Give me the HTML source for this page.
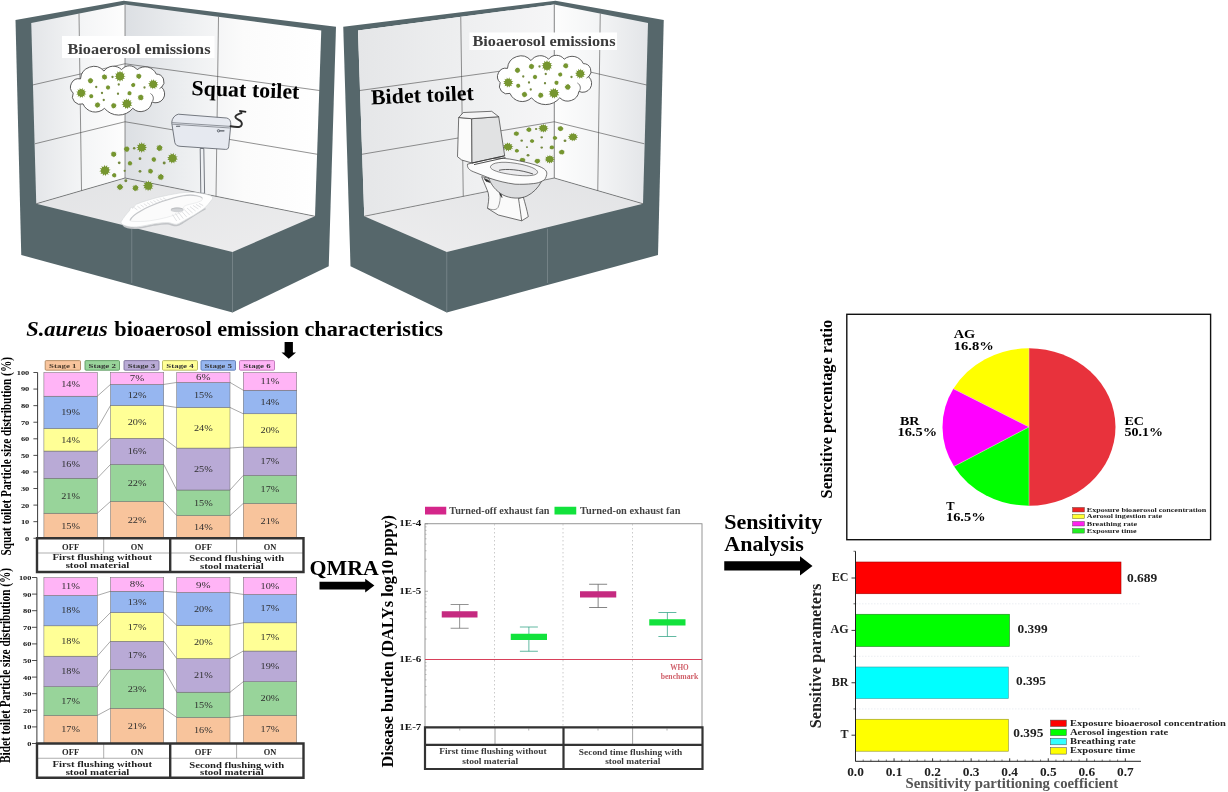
<!DOCTYPE html>
<html><head><meta charset="utf-8"><title>Graphical abstract</title>
<style>
html,body{margin:0;padding:0;background:#fff;}
body{width:1228px;height:792px;overflow:hidden;font-family:"Liberation Serif",serif;}
svg{display:block;font-family:"Liberation Serif",serif;filter:blur(0.45px);}
</style></head><body>
<svg width="1228" height="792" viewBox="0 0 1228 792">
<defs>
<linearGradient id="gLeft" x1="0" y1="0" x2="1" y2="0"><stop offset="0" stop-color="#e3e5e8"/><stop offset="0.55" stop-color="#f4f5f6"/><stop offset="1" stop-color="#fdfdfd"/></linearGradient>
<linearGradient id="gBack" x1="0" y1="0" x2="1" y2="0"><stop offset="0" stop-color="#dcdfe3"/><stop offset="0.3" stop-color="#eceef0"/><stop offset="0.6" stop-color="#fbfbfb"/><stop offset="1" stop-color="#ffffff"/></linearGradient>
<linearGradient id="gFloor" x1="0" y1="0" x2="1" y2="1"><stop offset="0" stop-color="#e2e3e5"/><stop offset="1" stop-color="#ededee"/></linearGradient>
<g id="germ">
<polygon fill="#6b8a28" points="1.080,0.000 0.599,0.160 0.935,0.540 0.438,0.438 0.540,0.935 0.160,0.599 0.000,1.080 -0.160,0.599 -0.540,0.935 -0.438,0.438 -0.935,0.540 -0.599,0.160 -1.080,0.000 -0.599,-0.160 -0.935,-0.540 -0.438,-0.438 -0.540,-0.935 -0.160,-0.599 -0.000,-1.080 0.160,-0.599 0.540,-0.935 0.438,-0.438 0.935,-0.540 0.599,-0.160"/>
<circle r="0.74" fill="#76962f"/>
</g>
<g id="roomshell">
<polygon points="15.5,20 123.75,0.75 336,26.75 328.75,266.25 232.5,312.5 21.25,255" fill="#56676b"/>
<polygon points="31.25,23 125,4.5 125,178 36.25,203.75" fill="url(#gLeft)"/>
<polygon points="125,4.5 321.25,30.5 315,216.25 125,178" fill="url(#gBack)"/>
<polygon points="36.25,203.75 125,178 315,216.25 232.5,252" fill="url(#gFloor)"/>
</g>
<g id="roomlines">
<g stroke="#4a4a4a" stroke-width="0.6" fill="none">
<path d="M125,4.5V178"/>
<path d="M79,13.6L81.5,190.6"/>
<path d="M32.5,85L125,63.75L319.5,90.5"/>
<path d="M35,143.75L125,121.75L317.5,154.3"/>
<path d="M218.5,16.9L216,196.3"/>
<path d="M36.25,203.75L125,178L315,216.25"/>
</g>
<path d="M131.75,228.75V283M232.5,252V312.5" stroke="#8a9598" stroke-width="0.6"/>
</g>
<linearGradient id="gBack2" x1="0" y1="0" x2="1" y2="0"><stop offset="0" stop-color="#f6f6f7"/><stop offset="0.45" stop-color="#eeeff0"/><stop offset="1" stop-color="#e5e6e8"/></linearGradient>
<g id="cloud">
<path d="M80.5,78.9A13.37,13.37 0 0 1 104,71.1A11.39,11.39 0 0 1 121.6,69.7A9.75,9.75 0 0 1 137.2,69.7A12.25,12.25 0 0 1 156.3,74.1A7.70,7.70 0 0 1 161.7,87.3A8.88,8.88 0 0 1 151.9,101.9A11.28,11.28 0 0 1 132.8,108.3A18.14,18.14 0 0 1 104.5,108.3A13.26,13.26 0 0 1 83,103.9A7.88,7.88 0 0 1 73.2,93.1A8.29,8.29 0 0 1 80.5,78.9Z" fill="#fff" stroke="#4a4a4a" stroke-width="0.9" stroke-linejoin="round"/>
<path d="M150.5,93.5C153,95 154.2,98 152.6,101.2" fill="none" stroke="#4a4a4a" stroke-width="0.8"/>
<path d="M159.5,88.6L162,86.8" fill="none" stroke="#4a4a4a" stroke-width="0.8"/>

<use href="#germ" transform="translate(120,76.25) scale(5.26) rotate(0)"/>
<use href="#germ" transform="translate(153.25,84.25) scale(4.91) rotate(37)"/>
<use href="#germ" transform="translate(81.25,93) scale(4.91) rotate(14)"/>
<use href="#germ" transform="translate(127,103.75) scale(5.26) rotate(51)"/>
<use href="#germ" transform="translate(90.5,80.75) scale(2.92) rotate(28)"/>
<use href="#germ" transform="translate(104.5,77) scale(2.92) rotate(5)"/>
<use href="#germ" transform="translate(138.75,76.25) scale(2.92) rotate(42)"/>
<use href="#germ" transform="translate(108,87.5) scale(2.34) rotate(19)"/>
<use href="#germ" transform="translate(133.25,85) scale(2.34) rotate(56)"/>
<use href="#germ" transform="translate(129.5,93.25) scale(2.34) rotate(33)"/>
<use href="#germ" transform="translate(91.25,96.25) scale(2.34) rotate(10)"/>
<use href="#germ" transform="translate(140.75,97.5) scale(3.16) rotate(47)"/>
<use href="#germ" transform="translate(97.5,105) scale(2.92) rotate(24)"/>
<use href="#germ" transform="translate(113.75,105.75) scale(2.92) rotate(1)"/>
<circle cx="112.5" cy="77" r="1.15" fill="#74893f"/>
<circle cx="96.25" cy="87" r="1.15" fill="#74893f"/>
<circle cx="118.75" cy="84.5" r="1.15" fill="#74893f"/>
<circle cx="144.5" cy="87.5" r="1.15" fill="#74893f"/>
<circle cx="102" cy="93" r="1.15" fill="#74893f"/>
<circle cx="118" cy="93.75" r="1.15" fill="#74893f"/>
<circle cx="103.75" cy="100" r="1.15" fill="#74893f"/>
</g>
<g id="germs">
<use href="#germ" transform="translate(141.7,147.5) scale(5.15) rotate(0)"/>
<use href="#germ" transform="translate(172.5,158.3) scale(5.15) rotate(41)"/>
<use href="#germ" transform="translate(105,170.5) scale(5.38) rotate(22)"/>
<use href="#germ" transform="translate(148.3,185.8) scale(5.15) rotate(3)"/>
<use href="#germ" transform="translate(126.7,149.2) scale(3.04) rotate(44)"/>
<use href="#germ" transform="translate(159.5,148) scale(3.28) rotate(25)"/>
<use href="#germ" transform="translate(113.7,154.2) scale(3.04) rotate(6)"/>
<use href="#germ" transform="translate(153.8,159.5) scale(2.57) rotate(47)"/>
<use href="#germ" transform="translate(130,163.3) scale(2.46) rotate(28)"/>
<use href="#germ" transform="translate(150.5,171.2) scale(2.69) rotate(9)"/>
<use href="#germ" transform="translate(160.8,177) scale(3.28) rotate(50)"/>
<use href="#germ" transform="translate(114.2,175.3) scale(2.46) rotate(31)"/>
<use href="#germ" transform="translate(120,187) scale(3.28) rotate(12)"/>
<use href="#germ" transform="translate(135.5,188) scale(3.28) rotate(53)"/>
<circle cx="134.2" cy="148.3" r="1.26" fill="#74893f"/>
<circle cx="140" cy="158.7" r="1.38" fill="#74893f"/>
<circle cx="119.2" cy="162.8" r="1.38" fill="#74893f"/>
<circle cx="164.2" cy="163" r="1.49" fill="#74893f"/>
<circle cx="140" cy="171.3" r="1.38" fill="#74893f"/>
<circle cx="124.7" cy="170.8" r="1.15" fill="#74893f"/>
<circle cx="125.8" cy="180.8" r="1.49" fill="#74893f"/>
</g>
</defs>
<rect width="1228" height="792" fill="#fff"/>
<use href="#roomshell"/><use href="#roomlines"/>
<g transform="translate(679.25,0) scale(-1,1)"><use href="#roomshell"/><polygon points="125,4.5 321.25,30.5 315,216.25 125,178" fill="url(#gBack2)"/><use href="#roomlines"/></g>
<rect x="62" y="36" width="152.5" height="22" fill="#fff"/>
<text x="67.5" y="53.75" font-size="15.5" font-weight="bold" fill="#3c3c3c" text-anchor="start" textLength="143" lengthAdjust="spacingAndGlyphs" >Bioaerosol emissions</text>
<use href="#cloud"/>
<use href="#germs"/>
<g stroke="#555b63" stroke-width="0.8" stroke-linejoin="round" fill="#e6e9f0">
<path d="M200.2,148.5L200.8,193.3L204.6,193.3L203.8,148.5Z" fill="#eef0f3"/>
<path d="M171.7,122.5C172,118 175,115 178.3,114.2L226.7,118C229.5,118.5 231,121 230.8,125L228.7,146.7C228.3,148.8 227.5,149.5 225.5,149.4L180,146.3C177,146 175.5,145 174.8,142.5Z"/>
<path d="M172,122.6L230.6,126.4M172.3,124.2L230.4,128" fill="none" stroke-width="0.6"/>
<path d="M176.5,126.2h3.2" stroke-width="1.1" stroke-linecap="round"/>
<path d="M218.5,130.8h5.5" stroke-width="1.2" stroke-linecap="round"/><circle cx="218.5" cy="130.8" r="1.2" fill="#cfd4dc"/>
</g>
<path d="M230.6,126.3C233.5,126.9 236.5,127.3 239,127C242,126.5 242.6,123.5 241,121.5C239.5,119.6 235.6,119.2 235.4,117C235.2,114.8 238.5,114.2 241.5,113" fill="none" stroke="#2e2e2e" stroke-width="2" stroke-linecap="round"/>
<path d="M239.2,110.9L246.2,111.9" stroke="#222" stroke-width="1.8"/>

<g stroke-linejoin="round">
<path d="M122.5,224.2C125,228.5 131,228 136.4,228.1C143,227.8 149,225.6 153.5,225C159,224.2 164,223.4 168,223.8C171,224.2 173.5,225.6 176.5,225.5C180,225 182,222.8 184.4,221.6C192,216.5 199,212 205.5,208.5" fill="none" stroke="#c2c4c7" stroke-width="1.6"/>
<path d="M121,221.8C123.5,217.5 126.5,214 129.5,210.6L130.4,207.9L131.8,207.2L132.6,208.4C134,206.8 135,205.2 136.4,204.2C143,201.5 150,199.5 157.7,197.4C165,195.7 172,194.2 179.1,193.1C183.5,192.5 188,192.2 191.9,192.3C196.5,192.6 201,193.2 204.7,194C208,194.8 211.5,195.7 212.4,197C213,198 212.6,199.2 211.6,200C209.5,203 207.2,205.6 204.7,208C198,213 190.5,217.2 183.4,220.9C181,222.3 179,223.8 176.5,224.3C173.5,224.5 171,222.8 168,222.6C163,222.4 158.5,223.2 153.5,223.9C148,224.9 142,226.4 136.4,226.9C133,227.1 129,226.9 126.1,226C123.2,225.2 120.6,223.6 121,221.8Z" fill="#fefefe" stroke="#d4d6d8" stroke-width="0.6"/>
<path d="M130,220C131,216.8 135.5,213.5 140.6,210.6C147,207 154.5,204 162,201.2C169,198.8 176.5,196.6 183.4,195.3C188,194.5 192.5,194.5 196.2,195.3C199.5,196 202,196.8 202.2,197.8C202.6,199 202.4,200 201.3,200.8C198.5,202.3 195,203.2 191.9,203.8C188,204.6 185,205.4 183.5,207C184.5,209 183.5,211 181,212.2C177,214.3 172,216 166.3,217.5C161,218.9 155,220.1 149.2,220.9C143.5,221.6 137,221.7 132.1,221.3C130.5,221.1 129.7,220.8 130,220Z" fill="#fbfbfb" stroke="#dcdee0" stroke-width="0.5"/>
<path d="M130.3,220C131.3,216.8 135.7,213.7 140.8,210.9C147,207.4 154.5,204.3 162,201.6C169,199.2 176.5,197 183.4,195.7C188,194.9 192.5,194.9 196.2,195.7C199.5,196.4 201.8,197 202,198" fill="none" stroke="#bfc1c4" stroke-width="1.1" stroke-linecap="round" opacity="0.9"/>
<ellipse cx="177" cy="209.9" rx="6.4" ry="2.3" fill="#d0d2d5"/>
<path d="M171,209.6C172,207.6 182,207.4 183.2,209.4" fill="none" stroke="#b4b6b9" stroke-width="0.8"/>
<g stroke="#d4d6d9" stroke-width="0.7">
<path d="M134.2,207.6l3.2,2.4M137.4,206.2l3.2,2.4M140.6,204.9l3.2,2.3M143.8,203.7l3.2,2.3M147,202.6l3.2,2.2M150.2,201.5l3.2,2.2M153.4,200.5l3.2,2.2M156.6,199.5l3.2,2.1M159.8,198.6l3.2,2.1M163,197.8l3.2,2"/>
<path d="M172.5,214.6l4.2,6.4M175.4,213.4l4.6,6.6M178.3,212.2l5,6.4M181.2,210.8l5.4,6.1M184.1,209.4l5.6,5.6M187,208l5.6,5M190,206.6l5.6,4.4M193,205.4l5.4,3.6M196,204.4l5,2.9M199,203.4l4.2,2.2"/>
</g>
</g>
<text x="191.25" y="95" font-size="21.5" font-weight="bold" fill="#000" text-anchor="start" textLength="108" lengthAdjust="spacingAndGlyphs" transform="rotate(2 191.25 95)" >Squat toilet</text>
<rect x="469.5" y="32.5" width="147.5" height="17.5" fill="#fff"/>
<text x="472.5" y="45.75" font-size="15" font-weight="bold" fill="#3c3c3c" text-anchor="start" textLength="143" lengthAdjust="spacingAndGlyphs" >Bioaerosol emissions</text>
<use href="#cloud" transform="translate(427,-10.5)"/>
<use href="#germs" transform="translate(508,128.25) scale(0.963,0.81) translate(-105,-147.5)"/>
<text x="371.25" y="104.5" font-size="21.5" font-weight="bold" fill="#000" text-anchor="start" textLength="103" lengthAdjust="spacingAndGlyphs" transform="rotate(-2.6 371.25 104.5)" >Bidet toilet</text>
<g stroke="#3a3a3a" stroke-width="0.7" stroke-linejoin="round">
<path d="M481.7,176.7C484,183 487,189 488.3,193.3C489.5,199 488,204 487.5,208.3L498.3,215L521.7,220.8L528.3,216.7C527,210 525,203 523.3,197L496,180Z" fill="#fafafa"/>
<path d="M521.7,220.8C520.5,212 519.5,205 518.5,198.5L523.3,197" fill="none"/>
<path d="M487.5,208.3C492,210 496,210.5 498,207.5C500,203.5 500.5,198 500.2,193.5" fill="none" stroke-width="0.5"/>
<path d="M484.2,178.5L488.3,180.2L490.2,182.5L486,181.2Z" fill="#222"/>
<path d="M499,190L500.8,193L502,197.5L500.2,195Z" fill="#222"/>
<path d="M488.5,177.5C491,185 496,191 503,195C510,198.5 520,199.3 527,196C533,193 538,188 541.5,181.5Z" fill="#dcdddf"/>
<path d="M467.5,164.2L490,158.3C500,157.8 508,158.5 515,160C525,162 534,164 540,166.7C545,169 547.3,171 546.7,174.5C546,178 545,179.5 543.3,180.5C540,182.5 537,183.2 533.3,183.6C527,184.3 521,184.4 515,184.2C506,183 498,181 490,178.3L473.3,171.7C469,170 467,167.5 467.5,164.2Z" fill="#fcfcfc"/>
<path d="M490.5,166.5C492,162.5 502,161.2 515,163.2C528,165.2 538.5,169 537.5,172.8C536.5,176 526,176.5 513,174.8C500,173 489.5,170 490.5,166.5Z" fill="#ececee" stroke-width="0.6"/>
<path d="M499,170.3C506,168.5 520,169.5 533,174" fill="none" stroke-width="0.8"/>
<path d="M458.7,117.5L471.7,118.7L472,163L461.7,160L457.5,156.7Z" fill="#fbfbfb"/>
<path d="M471.7,118.7L498.7,116.7L504.7,155.8L472,163Z" fill="#e1e2e3"/>
<path d="M458.7,117.5L463.3,112.5L491.7,111.3L498.7,116.7L471.7,118.7Z" fill="#f4f4f5"/>
<path d="M472,163L504.7,155.8M474,164.6L505.5,157.6" fill="none" stroke-width="0.9"/>
</g>
<text x="26.25" y="336.25" font-size="21.2" font-weight="bold" fill="#000" text-anchor="start" textLength="81.5" lengthAdjust="spacingAndGlyphs" font-style="italic" >S.aureus</text>
<text x="114.25" y="336.25" font-size="21.2" font-weight="bold" fill="#000" text-anchor="start" textLength="328.75" lengthAdjust="spacingAndGlyphs" >bioaerosol emission characteristics</text>
<path d="M284.6,342H292.9V352.4H296V352.4L288.75,358.8L281.5,352.4H284.6Z" fill="#000"/>
<path d="M97.3,513.22L110.5,501.45" stroke="#555" stroke-width="0.5"/>
<path d="M97.3,478.25L110.5,464.49" stroke="#555" stroke-width="0.5"/>
<path d="M97.3,451.07L110.5,438.30" stroke="#555" stroke-width="0.5"/>
<path d="M97.3,428.52L110.5,405.48" stroke="#555" stroke-width="0.5"/>
<path d="M97.3,396.20L110.5,384.43" stroke="#555" stroke-width="0.5"/>
<path d="M163.75,501.45L176.75,515.54" stroke="#555" stroke-width="0.5"/>
<path d="M163.75,464.49L176.75,490.02" stroke="#555" stroke-width="0.5"/>
<path d="M163.75,438.30L176.75,448.08" stroke="#555" stroke-width="0.5"/>
<path d="M163.75,405.48L176.75,407.47" stroke="#555" stroke-width="0.5"/>
<path d="M163.75,384.43L176.75,382.44" stroke="#555" stroke-width="0.5"/>
<path d="M230,515.54L243.25,503.44" stroke="#555" stroke-width="0.5"/>
<path d="M230,490.02L243.25,475.43" stroke="#555" stroke-width="0.5"/>
<path d="M230,448.08L243.25,447.09" stroke="#555" stroke-width="0.5"/>
<path d="M230,407.47L243.25,413.77" stroke="#555" stroke-width="0.5"/>
<path d="M230,382.44L243.25,390.24" stroke="#555" stroke-width="0.5"/>
<rect x="43.9" y="513.22" width="53.40" height="25.03" fill="#f8c49c" stroke="#6a6a6a" stroke-width="0.5"/>
<text x="70.6" y="528.54" font-size="8.2" font-weight="normal" fill="#2e2e2e" text-anchor="middle" textLength="18.8" lengthAdjust="spacingAndGlyphs" >15%</text>
<rect x="43.9" y="478.25" width="53.40" height="34.97" fill="#98d49a" stroke="#6a6a6a" stroke-width="0.5"/>
<text x="70.6" y="498.54" font-size="8.2" font-weight="normal" fill="#2e2e2e" text-anchor="middle" textLength="18.8" lengthAdjust="spacingAndGlyphs" >21%</text>
<rect x="43.9" y="451.07" width="53.40" height="27.18" fill="#b9aad6" stroke="#6a6a6a" stroke-width="0.5"/>
<text x="70.6" y="467.46" font-size="8.2" font-weight="normal" fill="#2e2e2e" text-anchor="middle" textLength="18.8" lengthAdjust="spacingAndGlyphs" >16%</text>
<rect x="43.9" y="428.52" width="53.40" height="22.54" fill="#ffff96" stroke="#6a6a6a" stroke-width="0.5"/>
<text x="70.6" y="442.59" font-size="8.2" font-weight="normal" fill="#2e2e2e" text-anchor="middle" textLength="18.8" lengthAdjust="spacingAndGlyphs" >14%</text>
<rect x="43.9" y="396.20" width="53.40" height="32.32" fill="#96b6f0" stroke="#6a6a6a" stroke-width="0.5"/>
<text x="70.6" y="415.16" font-size="8.2" font-weight="normal" fill="#2e2e2e" text-anchor="middle" textLength="18.8" lengthAdjust="spacingAndGlyphs" >19%</text>
<rect x="43.9" y="372.50" width="53.40" height="23.70" fill="#ffb4f6" stroke="#6a6a6a" stroke-width="0.5"/>
<text x="70.6" y="387.15" font-size="8.2" font-weight="normal" fill="#2e2e2e" text-anchor="middle" textLength="18.8" lengthAdjust="spacingAndGlyphs" >14%</text>
<rect x="110.5" y="501.45" width="53.25" height="36.80" fill="#f8c49c" stroke="#6a6a6a" stroke-width="0.5"/>
<text x="137.12" y="522.65" font-size="8.2" font-weight="normal" fill="#2e2e2e" text-anchor="middle" textLength="18.8" lengthAdjust="spacingAndGlyphs" >22%</text>
<rect x="110.5" y="464.49" width="53.25" height="36.96" fill="#98d49a" stroke="#6a6a6a" stroke-width="0.5"/>
<text x="137.12" y="485.77" font-size="8.2" font-weight="normal" fill="#2e2e2e" text-anchor="middle" textLength="18.8" lengthAdjust="spacingAndGlyphs" >22%</text>
<rect x="110.5" y="438.30" width="53.25" height="26.19" fill="#b9aad6" stroke="#6a6a6a" stroke-width="0.5"/>
<text x="137.12" y="454.2" font-size="8.2" font-weight="normal" fill="#2e2e2e" text-anchor="middle" textLength="18.8" lengthAdjust="spacingAndGlyphs" >16%</text>
<rect x="110.5" y="405.48" width="53.25" height="32.82" fill="#ffff96" stroke="#6a6a6a" stroke-width="0.5"/>
<text x="137.12" y="424.69" font-size="8.2" font-weight="normal" fill="#2e2e2e" text-anchor="middle" textLength="18.8" lengthAdjust="spacingAndGlyphs" >20%</text>
<rect x="110.5" y="384.43" width="53.25" height="21.05" fill="#96b6f0" stroke="#6a6a6a" stroke-width="0.5"/>
<text x="137.12" y="397.76" font-size="8.2" font-weight="normal" fill="#2e2e2e" text-anchor="middle" textLength="18.8" lengthAdjust="spacingAndGlyphs" >12%</text>
<rect x="110.5" y="372.50" width="53.25" height="11.93" fill="#ffb4f6" stroke="#6a6a6a" stroke-width="0.5"/>
<text x="137.12" y="381.27" font-size="8.2" font-weight="normal" fill="#2e2e2e" text-anchor="middle" textLength="14.5" lengthAdjust="spacingAndGlyphs" >7%</text>
<rect x="176.75" y="515.54" width="53.25" height="22.71" fill="#f8c49c" stroke="#6a6a6a" stroke-width="0.5"/>
<text x="203.38" y="529.7" font-size="8.2" font-weight="normal" fill="#2e2e2e" text-anchor="middle" textLength="18.8" lengthAdjust="spacingAndGlyphs" >14%</text>
<rect x="176.75" y="490.02" width="53.25" height="25.53" fill="#98d49a" stroke="#6a6a6a" stroke-width="0.5"/>
<text x="203.38" y="505.58" font-size="8.2" font-weight="normal" fill="#2e2e2e" text-anchor="middle" textLength="18.8" lengthAdjust="spacingAndGlyphs" >15%</text>
<rect x="176.75" y="448.08" width="53.25" height="41.93" fill="#b9aad6" stroke="#6a6a6a" stroke-width="0.5"/>
<text x="203.38" y="471.85" font-size="8.2" font-weight="normal" fill="#2e2e2e" text-anchor="middle" textLength="18.8" lengthAdjust="spacingAndGlyphs" >25%</text>
<rect x="176.75" y="407.47" width="53.25" height="40.61" fill="#ffff96" stroke="#6a6a6a" stroke-width="0.5"/>
<text x="203.38" y="430.58" font-size="8.2" font-weight="normal" fill="#2e2e2e" text-anchor="middle" textLength="18.8" lengthAdjust="spacingAndGlyphs" >24%</text>
<rect x="176.75" y="382.44" width="53.25" height="25.03" fill="#96b6f0" stroke="#6a6a6a" stroke-width="0.5"/>
<text x="203.38" y="397.76" font-size="8.2" font-weight="normal" fill="#2e2e2e" text-anchor="middle" textLength="18.8" lengthAdjust="spacingAndGlyphs" >15%</text>
<rect x="176.75" y="372.50" width="53.25" height="9.94" fill="#ffb4f6" stroke="#6a6a6a" stroke-width="0.5"/>
<text x="203.38" y="380.27" font-size="8.2" font-weight="normal" fill="#2e2e2e" text-anchor="middle" textLength="14.5" lengthAdjust="spacingAndGlyphs" >6%</text>
<rect x="243.25" y="503.44" width="53.50" height="34.81" fill="#f8c49c" stroke="#6a6a6a" stroke-width="0.5"/>
<text x="270.0" y="523.65" font-size="8.2" font-weight="normal" fill="#2e2e2e" text-anchor="middle" textLength="18.8" lengthAdjust="spacingAndGlyphs" >21%</text>
<rect x="243.25" y="475.43" width="53.50" height="28.01" fill="#98d49a" stroke="#6a6a6a" stroke-width="0.5"/>
<text x="270.0" y="492.24" font-size="8.2" font-weight="normal" fill="#2e2e2e" text-anchor="middle" textLength="18.8" lengthAdjust="spacingAndGlyphs" >17%</text>
<rect x="243.25" y="447.09" width="53.50" height="28.34" fill="#b9aad6" stroke="#6a6a6a" stroke-width="0.5"/>
<text x="270.0" y="464.06" font-size="8.2" font-weight="normal" fill="#2e2e2e" text-anchor="middle" textLength="18.8" lengthAdjust="spacingAndGlyphs" >17%</text>
<rect x="243.25" y="413.77" width="53.50" height="33.32" fill="#ffff96" stroke="#6a6a6a" stroke-width="0.5"/>
<text x="270.0" y="433.23" font-size="8.2" font-weight="normal" fill="#2e2e2e" text-anchor="middle" textLength="18.8" lengthAdjust="spacingAndGlyphs" >20%</text>
<rect x="243.25" y="390.24" width="53.50" height="23.54" fill="#96b6f0" stroke="#6a6a6a" stroke-width="0.5"/>
<text x="270.0" y="404.8" font-size="8.2" font-weight="normal" fill="#2e2e2e" text-anchor="middle" textLength="18.8" lengthAdjust="spacingAndGlyphs" >14%</text>
<rect x="243.25" y="372.50" width="53.50" height="17.74" fill="#ffb4f6" stroke="#6a6a6a" stroke-width="0.5"/>
<text x="270.0" y="384.17" font-size="8.2" font-weight="normal" fill="#2e2e2e" text-anchor="middle" textLength="18.8" lengthAdjust="spacingAndGlyphs" >11%</text>
<path d="M37.6,372.5V538.25" stroke="#222" stroke-width="0.9" fill="none"/>
<path d="M33.4,538.25H37.6" stroke="#222" stroke-width="0.8"/>
<text x="25.1" y="540.65" font-size="6.9" font-weight="bold" fill="#111" text-anchor="start" textLength="4.2" lengthAdjust="spacingAndGlyphs" >0</text>
<path d="M33.4,521.67H37.6" stroke="#222" stroke-width="0.8"/>
<text x="20.9" y="524.07" font-size="6.9" font-weight="bold" fill="#111" text-anchor="start" textLength="8.4" lengthAdjust="spacingAndGlyphs" >10</text>
<path d="M33.4,505.10H37.6" stroke="#222" stroke-width="0.8"/>
<text x="20.9" y="507.5" font-size="6.9" font-weight="bold" fill="#111" text-anchor="start" textLength="8.4" lengthAdjust="spacingAndGlyphs" >20</text>
<path d="M33.4,488.52H37.6" stroke="#222" stroke-width="0.8"/>
<text x="20.9" y="490.92" font-size="6.9" font-weight="bold" fill="#111" text-anchor="start" textLength="8.4" lengthAdjust="spacingAndGlyphs" >30</text>
<path d="M33.4,471.95H37.6" stroke="#222" stroke-width="0.8"/>
<text x="20.9" y="474.35" font-size="6.9" font-weight="bold" fill="#111" text-anchor="start" textLength="8.4" lengthAdjust="spacingAndGlyphs" >40</text>
<path d="M33.4,455.38H37.6" stroke="#222" stroke-width="0.8"/>
<text x="20.9" y="457.77" font-size="6.9" font-weight="bold" fill="#111" text-anchor="start" textLength="8.4" lengthAdjust="spacingAndGlyphs" >50</text>
<path d="M33.4,438.80H37.6" stroke="#222" stroke-width="0.8"/>
<text x="20.9" y="441.2" font-size="6.9" font-weight="bold" fill="#111" text-anchor="start" textLength="8.4" lengthAdjust="spacingAndGlyphs" >60</text>
<path d="M33.4,422.23H37.6" stroke="#222" stroke-width="0.8"/>
<text x="20.9" y="424.62" font-size="6.9" font-weight="bold" fill="#111" text-anchor="start" textLength="8.4" lengthAdjust="spacingAndGlyphs" >70</text>
<path d="M33.4,405.65H37.6" stroke="#222" stroke-width="0.8"/>
<text x="20.9" y="408.05" font-size="6.9" font-weight="bold" fill="#111" text-anchor="start" textLength="8.4" lengthAdjust="spacingAndGlyphs" >80</text>
<path d="M33.4,389.07H37.6" stroke="#222" stroke-width="0.8"/>
<text x="20.9" y="391.47" font-size="6.9" font-weight="bold" fill="#111" text-anchor="start" textLength="8.4" lengthAdjust="spacingAndGlyphs" >90</text>
<path d="M33.4,372.50H37.6" stroke="#222" stroke-width="0.8"/>
<text x="16.8" y="374.9" font-size="6.9" font-weight="bold" fill="#111" text-anchor="start" textLength="12.5" lengthAdjust="spacingAndGlyphs" >100</text>
<path d="M97.3,715.45L110.5,708.31" stroke="#555" stroke-width="0.5"/>
<path d="M97.3,686.73L110.5,669.30" stroke="#555" stroke-width="0.5"/>
<path d="M97.3,656.18L110.5,641.24" stroke="#555" stroke-width="0.5"/>
<path d="M97.3,625.81L110.5,612.53" stroke="#555" stroke-width="0.5"/>
<path d="M97.3,595.43L110.5,591.28" stroke="#555" stroke-width="0.5"/>
<path d="M163.75,708.31L176.75,717.44" stroke="#555" stroke-width="0.5"/>
<path d="M163.75,669.30L176.75,692.21" stroke="#555" stroke-width="0.5"/>
<path d="M163.75,641.24L176.75,658.51" stroke="#555" stroke-width="0.5"/>
<path d="M163.75,612.53L176.75,625.31" stroke="#555" stroke-width="0.5"/>
<path d="M163.75,591.28L176.75,592.44" stroke="#555" stroke-width="0.5"/>
<path d="M230,717.44L243.25,715.45" stroke="#555" stroke-width="0.5"/>
<path d="M230,692.21L243.25,681.75" stroke="#555" stroke-width="0.5"/>
<path d="M230,658.51L243.25,651.04" stroke="#555" stroke-width="0.5"/>
<path d="M230,625.31L243.25,622.82" stroke="#555" stroke-width="0.5"/>
<path d="M230,592.44L243.25,594.43" stroke="#555" stroke-width="0.5"/>
<rect x="43.9" y="715.45" width="53.40" height="28.05" fill="#f8c49c" stroke="#6a6a6a" stroke-width="0.5"/>
<text x="70.6" y="732.27" font-size="8.2" font-weight="normal" fill="#2e2e2e" text-anchor="middle" textLength="18.8" lengthAdjust="spacingAndGlyphs" >17%</text>
<rect x="43.9" y="686.73" width="53.40" height="28.72" fill="#98d49a" stroke="#6a6a6a" stroke-width="0.5"/>
<text x="70.6" y="703.89" font-size="8.2" font-weight="normal" fill="#2e2e2e" text-anchor="middle" textLength="18.8" lengthAdjust="spacingAndGlyphs" >17%</text>
<rect x="43.9" y="656.18" width="53.40" height="30.54" fill="#b9aad6" stroke="#6a6a6a" stroke-width="0.5"/>
<text x="70.6" y="674.26" font-size="8.2" font-weight="normal" fill="#2e2e2e" text-anchor="middle" textLength="18.8" lengthAdjust="spacingAndGlyphs" >18%</text>
<rect x="43.9" y="625.81" width="53.40" height="30.38" fill="#ffff96" stroke="#6a6a6a" stroke-width="0.5"/>
<text x="70.6" y="643.79" font-size="8.2" font-weight="normal" fill="#2e2e2e" text-anchor="middle" textLength="18.8" lengthAdjust="spacingAndGlyphs" >18%</text>
<rect x="43.9" y="595.43" width="53.40" height="30.38" fill="#96b6f0" stroke="#6a6a6a" stroke-width="0.5"/>
<text x="70.6" y="613.42" font-size="8.2" font-weight="normal" fill="#2e2e2e" text-anchor="middle" textLength="18.8" lengthAdjust="spacingAndGlyphs" >18%</text>
<rect x="43.9" y="577.50" width="53.40" height="17.93" fill="#ffb4f6" stroke="#6a6a6a" stroke-width="0.5"/>
<text x="70.6" y="589.26" font-size="8.2" font-weight="normal" fill="#2e2e2e" text-anchor="middle" textLength="18.8" lengthAdjust="spacingAndGlyphs" >11%</text>
<rect x="110.5" y="708.31" width="53.25" height="35.19" fill="#f8c49c" stroke="#6a6a6a" stroke-width="0.5"/>
<text x="137.12" y="728.7" font-size="8.2" font-weight="normal" fill="#2e2e2e" text-anchor="middle" textLength="18.8" lengthAdjust="spacingAndGlyphs" >21%</text>
<rect x="110.5" y="669.30" width="53.25" height="39.01" fill="#98d49a" stroke="#6a6a6a" stroke-width="0.5"/>
<text x="137.12" y="691.6" font-size="8.2" font-weight="normal" fill="#2e2e2e" text-anchor="middle" textLength="18.8" lengthAdjust="spacingAndGlyphs" >23%</text>
<rect x="110.5" y="641.24" width="53.25" height="28.05" fill="#b9aad6" stroke="#6a6a6a" stroke-width="0.5"/>
<text x="137.12" y="658.07" font-size="8.2" font-weight="normal" fill="#2e2e2e" text-anchor="middle" textLength="18.8" lengthAdjust="spacingAndGlyphs" >17%</text>
<rect x="110.5" y="612.53" width="53.25" height="28.72" fill="#ffff96" stroke="#6a6a6a" stroke-width="0.5"/>
<text x="137.12" y="629.68" font-size="8.2" font-weight="normal" fill="#2e2e2e" text-anchor="middle" textLength="18.8" lengthAdjust="spacingAndGlyphs" >17%</text>
<rect x="110.5" y="591.28" width="53.25" height="21.25" fill="#96b6f0" stroke="#6a6a6a" stroke-width="0.5"/>
<text x="137.12" y="604.7" font-size="8.2" font-weight="normal" fill="#2e2e2e" text-anchor="middle" textLength="18.8" lengthAdjust="spacingAndGlyphs" >13%</text>
<rect x="110.5" y="577.50" width="53.25" height="13.78" fill="#ffb4f6" stroke="#6a6a6a" stroke-width="0.5"/>
<text x="137.12" y="587.19" font-size="8.2" font-weight="normal" fill="#2e2e2e" text-anchor="middle" textLength="14.5" lengthAdjust="spacingAndGlyphs" >8%</text>
<rect x="176.75" y="717.44" width="53.25" height="26.06" fill="#f8c49c" stroke="#6a6a6a" stroke-width="0.5"/>
<text x="203.38" y="733.27" font-size="8.2" font-weight="normal" fill="#2e2e2e" text-anchor="middle" textLength="18.8" lengthAdjust="spacingAndGlyphs" >16%</text>
<rect x="176.75" y="692.21" width="53.25" height="25.23" fill="#98d49a" stroke="#6a6a6a" stroke-width="0.5"/>
<text x="203.38" y="707.62" font-size="8.2" font-weight="normal" fill="#2e2e2e" text-anchor="middle" textLength="18.8" lengthAdjust="spacingAndGlyphs" >15%</text>
<rect x="176.75" y="658.51" width="53.25" height="33.70" fill="#b9aad6" stroke="#6a6a6a" stroke-width="0.5"/>
<text x="203.38" y="678.16" font-size="8.2" font-weight="normal" fill="#2e2e2e" text-anchor="middle" textLength="18.8" lengthAdjust="spacingAndGlyphs" >21%</text>
<rect x="176.75" y="625.31" width="53.25" height="33.20" fill="#ffff96" stroke="#6a6a6a" stroke-width="0.5"/>
<text x="203.38" y="644.71" font-size="8.2" font-weight="normal" fill="#2e2e2e" text-anchor="middle" textLength="18.8" lengthAdjust="spacingAndGlyphs" >20%</text>
<rect x="176.75" y="592.44" width="53.25" height="32.87" fill="#96b6f0" stroke="#6a6a6a" stroke-width="0.5"/>
<text x="203.38" y="611.67" font-size="8.2" font-weight="normal" fill="#2e2e2e" text-anchor="middle" textLength="18.8" lengthAdjust="spacingAndGlyphs" >20%</text>
<rect x="176.75" y="577.50" width="53.25" height="14.94" fill="#ffb4f6" stroke="#6a6a6a" stroke-width="0.5"/>
<text x="203.38" y="587.77" font-size="8.2" font-weight="normal" fill="#2e2e2e" text-anchor="middle" textLength="14.5" lengthAdjust="spacingAndGlyphs" >9%</text>
<rect x="243.25" y="715.45" width="53.50" height="28.05" fill="#f8c49c" stroke="#6a6a6a" stroke-width="0.5"/>
<text x="270.0" y="732.27" font-size="8.2" font-weight="normal" fill="#2e2e2e" text-anchor="middle" textLength="18.8" lengthAdjust="spacingAndGlyphs" >17%</text>
<rect x="243.25" y="681.75" width="53.50" height="33.70" fill="#98d49a" stroke="#6a6a6a" stroke-width="0.5"/>
<text x="270.0" y="701.4" font-size="8.2" font-weight="normal" fill="#2e2e2e" text-anchor="middle" textLength="18.8" lengthAdjust="spacingAndGlyphs" >20%</text>
<rect x="243.25" y="651.04" width="53.50" height="30.71" fill="#b9aad6" stroke="#6a6a6a" stroke-width="0.5"/>
<text x="270.0" y="669.19" font-size="8.2" font-weight="normal" fill="#2e2e2e" text-anchor="middle" textLength="18.8" lengthAdjust="spacingAndGlyphs" >19%</text>
<rect x="243.25" y="622.82" width="53.50" height="28.22" fill="#ffff96" stroke="#6a6a6a" stroke-width="0.5"/>
<text x="270.0" y="639.73" font-size="8.2" font-weight="normal" fill="#2e2e2e" text-anchor="middle" textLength="18.8" lengthAdjust="spacingAndGlyphs" >17%</text>
<rect x="243.25" y="594.43" width="53.50" height="28.39" fill="#96b6f0" stroke="#6a6a6a" stroke-width="0.5"/>
<text x="270.0" y="611.42" font-size="8.2" font-weight="normal" fill="#2e2e2e" text-anchor="middle" textLength="18.8" lengthAdjust="spacingAndGlyphs" >17%</text>
<rect x="243.25" y="577.50" width="53.50" height="16.93" fill="#ffb4f6" stroke="#6a6a6a" stroke-width="0.5"/>
<text x="270.0" y="588.77" font-size="8.2" font-weight="normal" fill="#2e2e2e" text-anchor="middle" textLength="18.8" lengthAdjust="spacingAndGlyphs" >10%</text>
<path d="M36.9,577.5V743.5" stroke="#222" stroke-width="0.9" fill="none"/>
<path d="M32,743.50H36.9" stroke="#222" stroke-width="0.8"/>
<text x="27.2" y="745.9" font-size="6.9" font-weight="bold" fill="#111" text-anchor="start" textLength="4.2" lengthAdjust="spacingAndGlyphs" >0</text>
<path d="M32,726.90H36.9" stroke="#222" stroke-width="0.8"/>
<text x="23.0" y="729.3" font-size="6.9" font-weight="bold" fill="#111" text-anchor="start" textLength="8.4" lengthAdjust="spacingAndGlyphs" >10</text>
<path d="M32,710.30H36.9" stroke="#222" stroke-width="0.8"/>
<text x="23.0" y="712.7" font-size="6.9" font-weight="bold" fill="#111" text-anchor="start" textLength="8.4" lengthAdjust="spacingAndGlyphs" >20</text>
<path d="M32,693.70H36.9" stroke="#222" stroke-width="0.8"/>
<text x="23.0" y="696.1" font-size="6.9" font-weight="bold" fill="#111" text-anchor="start" textLength="8.4" lengthAdjust="spacingAndGlyphs" >30</text>
<path d="M32,677.10H36.9" stroke="#222" stroke-width="0.8"/>
<text x="23.0" y="679.5" font-size="6.9" font-weight="bold" fill="#111" text-anchor="start" textLength="8.4" lengthAdjust="spacingAndGlyphs" >40</text>
<path d="M32,660.50H36.9" stroke="#222" stroke-width="0.8"/>
<text x="23.0" y="662.9" font-size="6.9" font-weight="bold" fill="#111" text-anchor="start" textLength="8.4" lengthAdjust="spacingAndGlyphs" >50</text>
<path d="M32,643.90H36.9" stroke="#222" stroke-width="0.8"/>
<text x="23.0" y="646.3" font-size="6.9" font-weight="bold" fill="#111" text-anchor="start" textLength="8.4" lengthAdjust="spacingAndGlyphs" >60</text>
<path d="M32,627.30H36.9" stroke="#222" stroke-width="0.8"/>
<text x="23.0" y="629.7" font-size="6.9" font-weight="bold" fill="#111" text-anchor="start" textLength="8.4" lengthAdjust="spacingAndGlyphs" >70</text>
<path d="M32,610.70H36.9" stroke="#222" stroke-width="0.8"/>
<text x="23.0" y="613.1" font-size="6.9" font-weight="bold" fill="#111" text-anchor="start" textLength="8.4" lengthAdjust="spacingAndGlyphs" >80</text>
<path d="M32,594.10H36.9" stroke="#222" stroke-width="0.8"/>
<text x="23.0" y="596.5" font-size="6.9" font-weight="bold" fill="#111" text-anchor="start" textLength="8.4" lengthAdjust="spacingAndGlyphs" >90</text>
<path d="M32,577.50H36.9" stroke="#222" stroke-width="0.8"/>
<text x="18.9" y="579.9" font-size="6.9" font-weight="bold" fill="#111" text-anchor="start" textLength="12.5" lengthAdjust="spacingAndGlyphs" >100</text>
<rect x="45.2" y="360.6" width="35.3" height="9.6" rx="1" fill="#f8c49c" stroke="#b08860" stroke-width="0.9"/>
<text x="62.85" y="367.9" font-size="6.8" font-weight="bold" fill="#4a3a2a" text-anchor="middle" textLength="27.5" lengthAdjust="spacingAndGlyphs" >Stage 1</text>
<rect x="85" y="360.6" width="34.5" height="9.6" rx="1" fill="#98d49a" stroke="#5f9a62" stroke-width="0.9"/>
<text x="102.25" y="367.9" font-size="6.8" font-weight="bold" fill="#333" text-anchor="middle" textLength="27.5" lengthAdjust="spacingAndGlyphs" >Stage 2</text>
<rect x="124" y="360.6" width="35" height="9.6" rx="1" fill="#b9aad6" stroke="#7d6f9c" stroke-width="0.9"/>
<text x="141.5" y="367.9" font-size="6.8" font-weight="bold" fill="#333" text-anchor="middle" textLength="27.5" lengthAdjust="spacingAndGlyphs" >Stage 3</text>
<rect x="162.5" y="360.6" width="35.0" height="9.6" rx="1" fill="#ffff96" stroke="#b5b55e" stroke-width="0.9"/>
<text x="180.0" y="367.9" font-size="6.8" font-weight="bold" fill="#333" text-anchor="middle" textLength="27.5" lengthAdjust="spacingAndGlyphs" >Stage 4</text>
<rect x="201" y="360.6" width="34.5" height="9.6" rx="1" fill="#96b6f0" stroke="#5f7db5" stroke-width="0.9"/>
<text x="218.25" y="367.9" font-size="6.8" font-weight="bold" fill="#333" text-anchor="middle" textLength="27.5" lengthAdjust="spacingAndGlyphs" >Stage 5</text>
<rect x="239.5" y="360.6" width="35.0" height="9.6" rx="1" fill="#ffb4f6" stroke="#c074b8" stroke-width="0.9"/>
<text x="257.0" y="367.9" font-size="6.8" font-weight="bold" fill="#333" text-anchor="middle" textLength="27.5" lengthAdjust="spacingAndGlyphs" >Stage 6</text>
<text x="11" y="555.5" font-size="14" font-weight="bold" fill="#000" text-anchor="start" textLength="198.5" lengthAdjust="spacingAndGlyphs" transform="rotate(-90 11 555.5)" >Squat toilet Particle size distribution (%)</text>
<text x="9.6" y="763" font-size="14" font-weight="bold" fill="#000" text-anchor="start" textLength="195" lengthAdjust="spacingAndGlyphs" transform="rotate(-90 9.6 763)" >Bidet toilet Particle size distribution (%)</text>
<rect x="37" y="538.25" width="266.5" height="33.75" fill="#fff"/>
<path d="M37,553H303.5M103.7,538.25V553M236.6,538.25V553" stroke="#8c8c8c" stroke-width="0.7" fill="none"/>
<path d="M37,538.25H303.5V572H37ZM170.2,538.25V572" stroke="#333" stroke-width="2.4" fill="none"/>
<text x="70.6" y="549.8" font-size="7.2" font-weight="bold" fill="#222" text-anchor="middle" textLength="17" lengthAdjust="spacingAndGlyphs" >OFF</text>
<text x="137.12" y="549.8" font-size="7.2" font-weight="bold" fill="#222" text-anchor="middle" textLength="12.5" lengthAdjust="spacingAndGlyphs" >ON</text>
<text x="203.38" y="549.8" font-size="7.2" font-weight="bold" fill="#222" text-anchor="middle" textLength="17" lengthAdjust="spacingAndGlyphs" >OFF</text>
<text x="270.0" y="549.8" font-size="7.2" font-weight="bold" fill="#222" text-anchor="middle" textLength="12.5" lengthAdjust="spacingAndGlyphs" >ON</text>
<text x="102.3" y="560" font-size="8" font-weight="bold" fill="#222" text-anchor="middle" textLength="99.5" lengthAdjust="spacingAndGlyphs" >First flushing without</text>
<text x="97.5" y="568.25" font-size="8" font-weight="bold" fill="#222" text-anchor="middle" textLength="63.75" lengthAdjust="spacingAndGlyphs" >stool material</text>
<text x="236.75" y="561" font-size="8" font-weight="bold" fill="#222" text-anchor="middle" textLength="95" lengthAdjust="spacingAndGlyphs" >Second flushing with</text>
<text x="231.9" y="569.25" font-size="8" font-weight="bold" fill="#222" text-anchor="middle" textLength="63.75" lengthAdjust="spacingAndGlyphs" >stool material</text>
<rect x="37" y="743.5" width="266.5" height="34.25" fill="#fff"/>
<path d="M37,758.25H303.5M103.7,743.5V758.25M236.6,743.5V758.25" stroke="#8c8c8c" stroke-width="0.7" fill="none"/>
<path d="M37,743.5H303.5V777.75H37ZM170.2,743.5V777.75" stroke="#333" stroke-width="2.4" fill="none"/>
<text x="70.6" y="754.5" font-size="7.2" font-weight="bold" fill="#222" text-anchor="middle" textLength="17" lengthAdjust="spacingAndGlyphs" >OFF</text>
<text x="137.12" y="754.5" font-size="7.2" font-weight="bold" fill="#222" text-anchor="middle" textLength="12.5" lengthAdjust="spacingAndGlyphs" >ON</text>
<text x="203.38" y="754.5" font-size="7.2" font-weight="bold" fill="#222" text-anchor="middle" textLength="17" lengthAdjust="spacingAndGlyphs" >OFF</text>
<text x="270.0" y="754.5" font-size="7.2" font-weight="bold" fill="#222" text-anchor="middle" textLength="12.5" lengthAdjust="spacingAndGlyphs" >ON</text>
<text x="102.3" y="767.25" font-size="8" font-weight="bold" fill="#222" text-anchor="middle" textLength="99.5" lengthAdjust="spacingAndGlyphs" >First flushing without</text>
<text x="97.5" y="774.5" font-size="8" font-weight="bold" fill="#222" text-anchor="middle" textLength="63.75" lengthAdjust="spacingAndGlyphs" >stool material</text>
<text x="236.75" y="768.25" font-size="8" font-weight="bold" fill="#222" text-anchor="middle" textLength="95" lengthAdjust="spacingAndGlyphs" >Second flushing with</text>
<text x="231.9" y="774.75" font-size="8" font-weight="bold" fill="#222" text-anchor="middle" textLength="63.75" lengthAdjust="spacingAndGlyphs" >stool material</text>
<text x="309.5" y="574.5" font-size="22" font-weight="bold" fill="#000" text-anchor="start" textLength="69.25" lengthAdjust="spacingAndGlyphs" >QMRA</text>
<path d="M319.5,581.75H365.2V578.75L374.4,585.6L365.2,592.5V589.5H319.5Z" fill="#000"/>
<rect x="425" y="523.75" width="277" height="203.5" fill="#fff" stroke="#8a8a8a" stroke-width="0.9"/>
<path d="M494.5,524V727" stroke="#bdbdbd" stroke-width="0.8" stroke-dasharray="1.5,2.5"/>
<path d="M563,524V727" stroke="#bdbdbd" stroke-width="0.8" stroke-dasharray="1.5,2.5"/>
<path d="M632.5,524V727" stroke="#bdbdbd" stroke-width="0.8" stroke-dasharray="1.5,2.5"/>
<path d="M425,571.18h1.6" stroke="#8a8a8a" stroke-width="0.5"/>
<path d="M425,559.23h1.6" stroke="#8a8a8a" stroke-width="0.5"/>
<path d="M425,550.75h1.6" stroke="#8a8a8a" stroke-width="0.5"/>
<path d="M425,544.17h1.6" stroke="#8a8a8a" stroke-width="0.5"/>
<path d="M425,538.80h1.6" stroke="#8a8a8a" stroke-width="0.5"/>
<path d="M425,534.26h1.6" stroke="#8a8a8a" stroke-width="0.5"/>
<path d="M425,530.33h1.6" stroke="#8a8a8a" stroke-width="0.5"/>
<path d="M425,526.85h1.6" stroke="#8a8a8a" stroke-width="0.5"/>
<path d="M425,639.03h1.6" stroke="#8a8a8a" stroke-width="0.5"/>
<path d="M425,627.08h1.6" stroke="#8a8a8a" stroke-width="0.5"/>
<path d="M425,618.60h1.6" stroke="#8a8a8a" stroke-width="0.5"/>
<path d="M425,612.02h1.6" stroke="#8a8a8a" stroke-width="0.5"/>
<path d="M425,606.65h1.6" stroke="#8a8a8a" stroke-width="0.5"/>
<path d="M425,602.11h1.6" stroke="#8a8a8a" stroke-width="0.5"/>
<path d="M425,598.18h1.6" stroke="#8a8a8a" stroke-width="0.5"/>
<path d="M425,594.70h1.6" stroke="#8a8a8a" stroke-width="0.5"/>
<path d="M425,706.88h1.6" stroke="#8a8a8a" stroke-width="0.5"/>
<path d="M425,694.93h1.6" stroke="#8a8a8a" stroke-width="0.5"/>
<path d="M425,686.45h1.6" stroke="#8a8a8a" stroke-width="0.5"/>
<path d="M425,679.87h1.6" stroke="#8a8a8a" stroke-width="0.5"/>
<path d="M425,674.50h1.6" stroke="#8a8a8a" stroke-width="0.5"/>
<path d="M425,669.96h1.6" stroke="#8a8a8a" stroke-width="0.5"/>
<path d="M425,666.03h1.6" stroke="#8a8a8a" stroke-width="0.5"/>
<path d="M425,662.55h1.6" stroke="#8a8a8a" stroke-width="0.5"/>
<path d="M425,523.75h3" stroke="#8a8a8a" stroke-width="0.7"/>
<text x="399.3" y="526.25" font-size="7.4" font-weight="bold" fill="#111" text-anchor="start" textLength="22" lengthAdjust="spacingAndGlyphs" >1E-4</text>
<path d="M425,591.25h3" stroke="#8a8a8a" stroke-width="0.7"/>
<text x="399.3" y="593.75" font-size="7.4" font-weight="bold" fill="#111" text-anchor="start" textLength="22" lengthAdjust="spacingAndGlyphs" >1E-5</text>
<path d="M425,659.5h3" stroke="#8a8a8a" stroke-width="0.7"/>
<text x="399.3" y="662.0" font-size="7.4" font-weight="bold" fill="#111" text-anchor="start" textLength="22" lengthAdjust="spacingAndGlyphs" >1E-6</text>
<path d="M425,727.3h3" stroke="#8a8a8a" stroke-width="0.7"/>
<text x="399.3" y="729.8" font-size="7.4" font-weight="bold" fill="#111" text-anchor="start" textLength="22" lengthAdjust="spacingAndGlyphs" >1E-7</text>
<path d="M425,659.5H702" stroke="#d8405a" stroke-width="1"/>
<path d="M459.625,604.5V628.25M450.625,604.5h18M450.625,628.25h18" stroke="#777" stroke-width="0.8" fill="none"/>
<rect x="441.75" y="611.25" width="35.75" height="6.25" fill="#c52a80"/>
<path d="M528.875,627V651.25M519.875,627h18M519.875,651.25h18" stroke="#3aa78a" stroke-width="0.8" fill="none"/>
<rect x="510.75" y="633.75" width="36.25" height="6.25" fill="#12e23c"/>
<path d="M598.125,584.25V607.5M589.125,584.25h18M589.125,607.5h18" stroke="#666" stroke-width="0.8" fill="none"/>
<rect x="580" y="591.25" width="36.25" height="6.25" fill="#c52a80"/>
<path d="M667.375,612.5V636.5M658.375,612.5h18M658.375,636.5h18" stroke="#3aa78a" stroke-width="0.8" fill="none"/>
<rect x="649.25" y="619.25" width="36.25" height="6.25" fill="#12e23c"/>
<text x="679.5" y="670" font-size="7.2" font-weight="bold" fill="#d0606a" text-anchor="middle" textLength="18.5" lengthAdjust="spacingAndGlyphs" >WHO</text>
<text x="679.5" y="679.3" font-size="7.2" font-weight="bold" fill="#d0606a" text-anchor="middle" textLength="37.6" lengthAdjust="spacingAndGlyphs" >benchmark</text>
<rect x="425" y="506.75" width="21.25" height="7.75" fill="#d4268a"/>
<text x="449.25" y="513.9" font-size="9.5" font-weight="bold" fill="#444" text-anchor="start" textLength="100.25" lengthAdjust="spacingAndGlyphs" >Turned-off exhaust fan</text>
<rect x="554.5" y="506.75" width="21.75" height="7.75" fill="#12e23c"/>
<text x="580" y="513.9" font-size="9.5" font-weight="bold" fill="#444" text-anchor="start" textLength="100.5" lengthAdjust="spacingAndGlyphs" >Turned-on exhaust fan</text>
<rect x="425" y="727.3" width="277.5" height="41.7" fill="#fff"/>
<path d="M495,727.3V744.8M632.6,727.3V744.8" stroke="#8c8c8c" stroke-width="0.8"/>
<path d="M459.75,728.5v2M528.75,728.5v2M598,728.5v2M667,728.5v2" stroke="#8c8c8c" stroke-width="0.7"/>
<path d="M425,727.3H702.5V769H425ZM425,744.8H702.5M563.5,727.3V769" stroke="#333" stroke-width="2.2" fill="none"/>
<text x="492.9" y="754.2" font-size="9" font-weight="bold" fill="#3a3a3a" text-anchor="middle" textLength="107.5" lengthAdjust="spacingAndGlyphs" >First time flushing without</text>
<text x="490.2" y="763.6" font-size="9" font-weight="bold" fill="#3a3a3a" text-anchor="middle" textLength="55.9" lengthAdjust="spacingAndGlyphs" >stool material</text>
<text x="630.6" y="754.8" font-size="9" font-weight="bold" fill="#3a3a3a" text-anchor="middle" textLength="103.5" lengthAdjust="spacingAndGlyphs" >Second time flushing with</text>
<text x="632.7" y="764.2" font-size="9" font-weight="bold" fill="#3a3a3a" text-anchor="middle" textLength="55.1" lengthAdjust="spacingAndGlyphs" >stool material</text>
<text x="392.6" y="767.5" font-size="16.3" font-weight="bold" fill="#000" text-anchor="start" textLength="252.5" lengthAdjust="spacingAndGlyphs" transform="rotate(-90 392.6 767.5)" >Disease burden (DALYs log10 pppy)</text>
<text x="724.25" y="528.75" font-size="22" font-weight="bold" fill="#000" text-anchor="start" textLength="98" lengthAdjust="spacingAndGlyphs" >Sensitivity</text>
<text x="724.25" y="551.25" font-size="22" font-weight="bold" fill="#000" text-anchor="start" textLength="79.5" lengthAdjust="spacingAndGlyphs" >Analysis</text>
<path d="M724.25,561.25H800V556.3L812.5,566L800,575.6V570.5H724.25Z" fill="#000"/>
<rect x="846.8" y="314.3" width="363.8" height="225.4" fill="#fff" stroke="#111" stroke-width="1.4"/>
<path d="M1029,427L1029.00,505.75A86.5,78.75 0 0 0 1029.00,348.25Z" fill="#e8323c"/>
<path d="M1029,427L1029.00,348.25A86.5,78.75 0 0 0 953.35,388.82Z" fill="#ffff00"/>
<path d="M1029,427L953.35,388.82A86.5,78.75 0 0 0 954.09,466.38Z" fill="#ff00ff"/>
<path d="M1029,427L954.09,466.38A86.5,78.75 0 0 0 1029.00,505.75Z" fill="#00ff00"/>
<path d="M1029,427L953.35,388.82M1029,427L954.09,466.38M1029,348.25V505.75" stroke="#e8d8c8" stroke-width="0.5" fill="none"/>
<text x="953.75" y="338.25" font-size="12.5" font-weight="bold" fill="#000" text-anchor="start" textLength="21.5" lengthAdjust="spacingAndGlyphs" >AG</text>
<text x="953.75" y="349.5" font-size="12.5" font-weight="bold" fill="#000" text-anchor="start" textLength="40" lengthAdjust="spacingAndGlyphs" >16.8%</text>
<text x="900" y="424.5" font-size="12.5" font-weight="bold" fill="#000" text-anchor="start" textLength="19.5" lengthAdjust="spacingAndGlyphs" >BR</text>
<text x="897.5" y="436" font-size="12.5" font-weight="bold" fill="#000" text-anchor="start" textLength="39.5" lengthAdjust="spacingAndGlyphs" >16.5%</text>
<text x="1124.5" y="424.5" font-size="12.5" font-weight="bold" fill="#000" text-anchor="start" textLength="19.5" lengthAdjust="spacingAndGlyphs" >EC</text>
<text x="1124.5" y="436" font-size="12.5" font-weight="bold" fill="#000" text-anchor="start" textLength="38.5" lengthAdjust="spacingAndGlyphs" >50.1%</text>
<text x="946.25" y="509.5" font-size="12.5" font-weight="bold" fill="#000" text-anchor="start" >T</text>
<text x="946" y="521.25" font-size="12.5" font-weight="bold" fill="#000" text-anchor="start" textLength="39.5" lengthAdjust="spacingAndGlyphs" >16.5%</text>
<rect x="1072.5" y="507.4" width="12" height="4.6" fill="#ee2222" stroke="#444" stroke-width="0.4"/>
<text x="1086.8" y="511.5" font-size="5.6" font-weight="bold" fill="#222" text-anchor="start" textLength="119.4" lengthAdjust="spacingAndGlyphs" >Exposure bioaerosol concentration</text>
<rect x="1072.5" y="514.2" width="12" height="4.6" fill="#ffff33" stroke="#444" stroke-width="0.4"/>
<text x="1086.8" y="518.3" font-size="5.6" font-weight="bold" fill="#222" text-anchor="start" textLength="75.2" lengthAdjust="spacingAndGlyphs" >Aerosol ingestion rate</text>
<rect x="1072.5" y="521.4000000000001" width="12" height="4.6" fill="#ff22ee" stroke="#444" stroke-width="0.4"/>
<text x="1086.8" y="525.5" font-size="5.6" font-weight="bold" fill="#222" text-anchor="start" textLength="50.3" lengthAdjust="spacingAndGlyphs" >Breathing rate</text>
<rect x="1072.5" y="528.5" width="12" height="4.6" fill="#22ee22" stroke="#444" stroke-width="0.4"/>
<text x="1086.8" y="532.5999999999999" font-size="5.6" font-weight="bold" fill="#222" text-anchor="start" textLength="49.8" lengthAdjust="spacingAndGlyphs" >Exposure time</text>
<text x="832.3" y="498.4" font-size="16.3" font-weight="bold" fill="#000" text-anchor="start" textLength="178.6" lengthAdjust="spacingAndGlyphs" transform="rotate(-90 832.3 498.4)" >Sensitive percentage ratio</text>
<path d="M856,603.8H1141" stroke="#e4e8ee" stroke-width="0.7" stroke-dasharray="1.5,1.5"/>
<path d="M856,656.3H1141" stroke="#e4e8ee" stroke-width="0.7" stroke-dasharray="1.5,1.5"/>
<path d="M856,708.9H1141" stroke="#e4e8ee" stroke-width="0.7" stroke-dasharray="1.5,1.5"/>
<rect x="855.5" y="562" width="265.5" height="31.75" fill="#ff0000" stroke="#a00000" stroke-width="0.6"/>
<rect x="855.5" y="614.25" width="154.0" height="32.25" fill="#00ff00" stroke="#208020" stroke-width="0.6"/>
<rect x="855.5" y="667" width="152.79999999999995" height="31.5" fill="#00ffff" stroke="#30a0a0" stroke-width="0.6"/>
<rect x="855.5" y="719.25" width="152.79999999999995" height="31.950000000000045" fill="#ffff00" stroke="#909020" stroke-width="0.6"/>
<path d="M855.5,551.25V761.3H1141" stroke="#222" stroke-width="1" fill="none"/>
<path d="M855.50,761.3v-3" stroke="#222" stroke-width="0.9"/>
<text x="855.5" y="775.6" font-size="13" font-weight="bold" fill="#222" text-anchor="middle" textLength="16.7" lengthAdjust="spacingAndGlyphs" >0.0</text>
<path d="M863.21,761.3v-1.8" stroke="#222" stroke-width="0.6"/>
<path d="M870.92,761.3v-1.8" stroke="#222" stroke-width="0.6"/>
<path d="M878.63,761.3v-1.8" stroke="#222" stroke-width="0.6"/>
<path d="M886.34,761.3v-1.8" stroke="#222" stroke-width="0.6"/>
<path d="M894.05,761.3v-3" stroke="#222" stroke-width="0.9"/>
<text x="894.05" y="775.6" font-size="13" font-weight="bold" fill="#222" text-anchor="middle" textLength="16.7" lengthAdjust="spacingAndGlyphs" >0.1</text>
<path d="M901.76,761.3v-1.8" stroke="#222" stroke-width="0.6"/>
<path d="M909.47,761.3v-1.8" stroke="#222" stroke-width="0.6"/>
<path d="M917.18,761.3v-1.8" stroke="#222" stroke-width="0.6"/>
<path d="M924.89,761.3v-1.8" stroke="#222" stroke-width="0.6"/>
<path d="M932.60,761.3v-3" stroke="#222" stroke-width="0.9"/>
<text x="932.6" y="775.6" font-size="13" font-weight="bold" fill="#222" text-anchor="middle" textLength="16.7" lengthAdjust="spacingAndGlyphs" >0.2</text>
<path d="M940.31,761.3v-1.8" stroke="#222" stroke-width="0.6"/>
<path d="M948.02,761.3v-1.8" stroke="#222" stroke-width="0.6"/>
<path d="M955.73,761.3v-1.8" stroke="#222" stroke-width="0.6"/>
<path d="M963.44,761.3v-1.8" stroke="#222" stroke-width="0.6"/>
<path d="M971.15,761.3v-3" stroke="#222" stroke-width="0.9"/>
<text x="971.15" y="775.6" font-size="13" font-weight="bold" fill="#222" text-anchor="middle" textLength="16.7" lengthAdjust="spacingAndGlyphs" >0.3</text>
<path d="M978.86,761.3v-1.8" stroke="#222" stroke-width="0.6"/>
<path d="M986.57,761.3v-1.8" stroke="#222" stroke-width="0.6"/>
<path d="M994.28,761.3v-1.8" stroke="#222" stroke-width="0.6"/>
<path d="M1001.99,761.3v-1.8" stroke="#222" stroke-width="0.6"/>
<path d="M1009.70,761.3v-3" stroke="#222" stroke-width="0.9"/>
<text x="1009.7" y="775.6" font-size="13" font-weight="bold" fill="#222" text-anchor="middle" textLength="16.7" lengthAdjust="spacingAndGlyphs" >0.4</text>
<path d="M1017.41,761.3v-1.8" stroke="#222" stroke-width="0.6"/>
<path d="M1025.12,761.3v-1.8" stroke="#222" stroke-width="0.6"/>
<path d="M1032.83,761.3v-1.8" stroke="#222" stroke-width="0.6"/>
<path d="M1040.54,761.3v-1.8" stroke="#222" stroke-width="0.6"/>
<path d="M1048.25,761.3v-3" stroke="#222" stroke-width="0.9"/>
<text x="1048.25" y="775.6" font-size="13" font-weight="bold" fill="#222" text-anchor="middle" textLength="16.7" lengthAdjust="spacingAndGlyphs" >0.5</text>
<path d="M1055.96,761.3v-1.8" stroke="#222" stroke-width="0.6"/>
<path d="M1063.67,761.3v-1.8" stroke="#222" stroke-width="0.6"/>
<path d="M1071.38,761.3v-1.8" stroke="#222" stroke-width="0.6"/>
<path d="M1079.09,761.3v-1.8" stroke="#222" stroke-width="0.6"/>
<path d="M1086.80,761.3v-3" stroke="#222" stroke-width="0.9"/>
<text x="1086.8" y="775.6" font-size="13" font-weight="bold" fill="#222" text-anchor="middle" textLength="16.7" lengthAdjust="spacingAndGlyphs" >0.6</text>
<path d="M1094.51,761.3v-1.8" stroke="#222" stroke-width="0.6"/>
<path d="M1102.22,761.3v-1.8" stroke="#222" stroke-width="0.6"/>
<path d="M1109.93,761.3v-1.8" stroke="#222" stroke-width="0.6"/>
<path d="M1117.64,761.3v-1.8" stroke="#222" stroke-width="0.6"/>
<path d="M1125.35,761.3v-3" stroke="#222" stroke-width="0.9"/>
<text x="1125.35" y="775.6" font-size="13" font-weight="bold" fill="#222" text-anchor="middle" textLength="16.7" lengthAdjust="spacingAndGlyphs" >0.7</text>
<path d="M851.5,578H855.5" stroke="#222" stroke-width="0.9"/>
<text x="848.5" y="581" font-size="12" font-weight="bold" fill="#222" text-anchor="end" >EC</text>
<path d="M851.5,630.4H855.5" stroke="#222" stroke-width="0.9"/>
<text x="848.5" y="633.4" font-size="12" font-weight="bold" fill="#222" text-anchor="end" >AG</text>
<path d="M851.5,682.75H855.5" stroke="#222" stroke-width="0.9"/>
<text x="848.5" y="685.75" font-size="12" font-weight="bold" fill="#222" text-anchor="end" >BR</text>
<path d="M851.5,735.2H855.5" stroke="#222" stroke-width="0.9"/>
<text x="848.5" y="738.2" font-size="12" font-weight="bold" fill="#222" text-anchor="end" >T</text>
<path d="M853.5,551.25H855.5" stroke="#222" stroke-width="0.7"/>
<path d="M853.5,603.8H855.5" stroke="#222" stroke-width="0.7"/>
<path d="M853.5,656.3H855.5" stroke="#222" stroke-width="0.7"/>
<path d="M853.5,708.9H855.5" stroke="#222" stroke-width="0.7"/>
<text x="1127" y="581.8" font-size="13.3" font-weight="bold" fill="#222" text-anchor="start" textLength="30.3" lengthAdjust="spacingAndGlyphs" >0.689</text>
<text x="1017.6" y="632.5" font-size="13.3" font-weight="bold" fill="#222" text-anchor="start" textLength="30" lengthAdjust="spacingAndGlyphs" >0.399</text>
<text x="1016" y="684.6" font-size="13.3" font-weight="bold" fill="#222" text-anchor="start" textLength="30" lengthAdjust="spacingAndGlyphs" >0.395</text>
<text x="1013.3" y="737.3" font-size="13.3" font-weight="bold" fill="#222" text-anchor="start" textLength="30" lengthAdjust="spacingAndGlyphs" >0.395</text>
<rect x="1050.5" y="720.0999999999999" width="15.8" height="6.4" fill="#ff0000" stroke="#444" stroke-width="0.5"/>
<text x="1070" y="725.6999999999999" font-size="7.2" font-weight="bold" fill="#222" text-anchor="start" textLength="156" lengthAdjust="spacingAndGlyphs" >Exposure bioaerosol concentration</text>
<rect x="1050.5" y="729.1999999999999" width="15.8" height="6.4" fill="#00ff00" stroke="#444" stroke-width="0.5"/>
<text x="1070" y="734.8" font-size="7.2" font-weight="bold" fill="#222" text-anchor="start" textLength="98.3" lengthAdjust="spacingAndGlyphs" >Aerosol ingestion rate</text>
<rect x="1050.5" y="738.4" width="15.8" height="6.4" fill="#33ffff" stroke="#444" stroke-width="0.5"/>
<text x="1070" y="744.0" font-size="7.2" font-weight="bold" fill="#222" text-anchor="start" textLength="65.7" lengthAdjust="spacingAndGlyphs" >Breathing rate</text>
<rect x="1050.5" y="747.6999999999999" width="15.8" height="6.4" fill="#ffff00" stroke="#444" stroke-width="0.5"/>
<text x="1070" y="753.3" font-size="7.2" font-weight="bold" fill="#222" text-anchor="start" textLength="65.1" lengthAdjust="spacingAndGlyphs" >Exposure time</text>
<text x="820.8" y="728.2" font-size="16.2" font-weight="bold" fill="#222" text-anchor="start" textLength="144.6" lengthAdjust="spacingAndGlyphs" transform="rotate(-90 820.8 728.2)" >Sensitive parameters</text>
<text x="905.6" y="788" font-size="14.7" font-weight="bold" fill="#555" text-anchor="start" textLength="212.6" lengthAdjust="spacingAndGlyphs" >Sensitivity partitioning coefficient</text>
</svg></body></html>
